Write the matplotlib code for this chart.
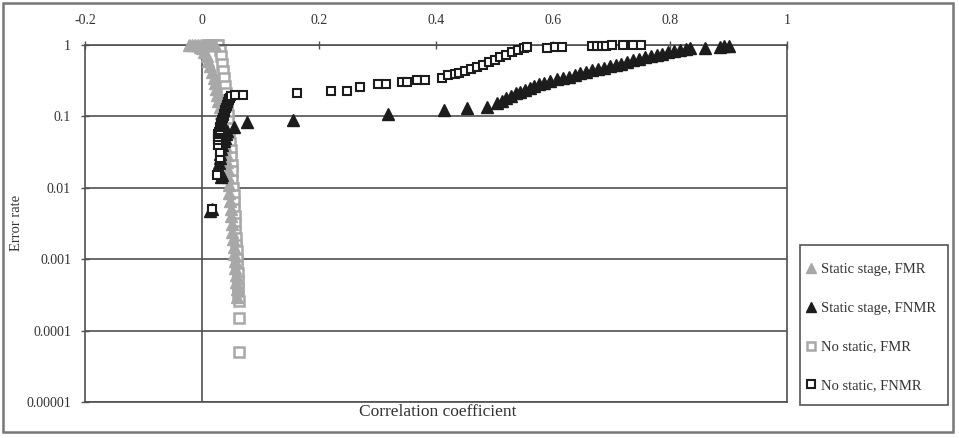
import matplotlib
matplotlib.use("Agg")
import matplotlib.pyplot as plt
from matplotlib.patches import Rectangle
from matplotlib.ticker import FixedLocator, FixedFormatter, NullLocator

plt.rcParams['font.family'] = ['Liberation Serif', 'DejaVu Serif']

# Static stage, FMR (grey triangles)
static_fmr_x = [-0.022, -0.017, -0.012, -0.007, -0.002, 0.003, 0.008, 0.013, 0.018, 0.023,
                -0.004, 0.0, 0.004, 0.008, 0.011, 0.014, 0.017, 0.020, 0.022, 0.024, 0.026,
                0.028, 0.030, 0.032, 0.034, 0.036, 0.038, 0.040, 0.041, 0.042, 0.043,
                0.044, 0.045, 0.046, 0.047, 0.048, 0.049, 0.050, 0.051, 0.052, 0.053,
                0.054, 0.055, 0.056, 0.057, 0.058, 0.058, 0.059, 0.060]
static_fmr_y = [1, 1, 1, 1, 1, 1, 1, 1, 1, 1,
                0.95, 0.9, 0.8, 0.7, 0.6, 0.5, 0.42, 0.35, 0.29, 0.24, 0.2,
                0.165, 0.135, 0.11, 0.09, 0.072, 0.058, 0.046, 0.037, 0.029, 0.023,
                0.018, 0.014, 0.011, 0.0085, 0.0066, 0.0051, 0.004, 0.0031, 0.0024, 0.0019,
                0.0015, 0.0012, 0.00095, 0.00075, 0.0006, 0.00048, 0.00038, 0.0003]

# Static stage, FNMR (black triangles)
static_fnmr_x = [0.013, 0.017, 0.032, 0.034, 0.028, 0.029, 0.030, 0.031, 0.033, 0.035,
                 0.037, 0.039, 0.041, 0.043,
                 0.055, 0.077, 0.156, 0.318, 0.414, 0.453, 0.487, 0.505, 0.512, 0.520,
                 0.528, 0.536, 0.544, 0.552, 0.560, 0.568, 0.576, 0.585, 0.595, 0.607,
                 0.617, 0.627, 0.637, 0.647, 0.657, 0.667, 0.677, 0.687, 0.697, 0.707,
                 0.717, 0.727, 0.737, 0.747, 0.757, 0.767, 0.777, 0.787, 0.797, 0.807,
                 0.817, 0.827, 0.835, 0.860, 0.885, 0.893, 0.900]
static_fnmr_y = [0.0047, 0.005, 0.014, 0.015, 0.019, 0.022, 0.026, 0.030, 0.035, 0.040,
                 0.045, 0.050, 0.056, 0.063,
                 0.071, 0.083, 0.089, 0.107, 0.123, 0.13, 0.137, 0.152, 0.165, 0.18,
                 0.195, 0.21, 0.22, 0.235, 0.25, 0.265, 0.28, 0.295, 0.31, 0.33,
                 0.345, 0.36, 0.38, 0.40, 0.42, 0.44, 0.46, 0.48, 0.50, 0.52,
                 0.55, 0.58, 0.61, 0.64, 0.67, 0.70, 0.73, 0.76, 0.79, 0.82,
                 0.85, 0.88, 0.90, 0.92, 0.95, 0.96, 0.96]

# No static, FMR (grey squares)
nostatic_fmr_x = [0.010, 0.015, 0.020, 0.025, 0.028, 0.030, 0.032, 0.034, 0.036, 0.038,
                  0.040, 0.041, 0.042, 0.043, 0.044, 0.045, 0.046, 0.047, 0.048, 0.049,
                  0.050, 0.051, 0.052, 0.052, 0.053, 0.054, 0.054, 0.055, 0.056, 0.056,
                  0.057, 0.058, 0.058, 0.059, 0.060, 0.060, 0.061, 0.061, 0.062, 0.062,
                  0.063, 0.063, 0.064]
nostatic_fmr_y = [1, 1, 1, 1, 1, 0.85, 0.7, 0.55, 0.43, 0.34,
                  0.27, 0.21, 0.17, 0.135, 0.105, 0.085, 0.068, 0.054, 0.043, 0.034,
                  0.027, 0.021, 0.017, 0.013, 0.01, 0.008, 0.0063, 0.005, 0.004, 0.0032,
                  0.0025, 0.002, 0.0016, 0.0013, 0.001, 0.0008, 0.00064, 0.0005, 0.0004, 0.00032,
                  0.00026, 0.00015, 0.00005]

# No static, FNMR (black squares)
nostatic_fnmr_x = [0.017, 0.026, 0.030, 0.030, 0.027, 0.027, 0.027, 0.028, 0.029, 0.030,
                   0.031, 0.032, 0.033, 0.034, 0.035, 0.036, 0.037, 0.038, 0.039, 0.040,
                   0.041, 0.042, 0.043, 0.044, 0.045, 0.046, 0.047, 0.048, 0.050, 0.056,
                   0.070, 0.162, 0.220, 0.248, 0.270, 0.300, 0.315, 0.342, 0.350, 0.368,
                   0.381, 0.410, 0.420, 0.432, 0.440, 0.450, 0.460, 0.470, 0.480, 0.490,
                   0.500, 0.510, 0.520, 0.530, 0.540, 0.550, 0.555, 0.590, 0.604, 0.615,
                   0.667, 0.675, 0.683, 0.690, 0.700, 0.720, 0.737, 0.750]
nostatic_fnmr_y = [0.005, 0.015, 0.026, 0.032, 0.040, 0.047, 0.052, 0.056, 0.060, 0.065,
                   0.070, 0.075, 0.080, 0.085, 0.090, 0.095, 0.10, 0.108, 0.115, 0.122,
                   0.13, 0.138, 0.145, 0.152, 0.16, 0.168, 0.175, 0.183, 0.19, 0.20,
                   0.20, 0.21, 0.227, 0.227, 0.26, 0.28, 0.28, 0.30, 0.30, 0.32,
                   0.32, 0.345, 0.375, 0.39, 0.41, 0.43, 0.46, 0.49, 0.53, 0.57,
                   0.62, 0.67, 0.73, 0.79, 0.85, 0.90, 0.93, 0.92, 0.94, 0.94,
                   0.96, 0.96, 0.96, 0.96, 1.0, 1.0, 1.0, 1.0]

x_ticks = [-0.2, 0, 0.2, 0.4, 0.6, 0.8, 1]
x_tick_labels = ['-0.2', '0', '0.2', '0.4', '0.6', '0.8', '1']
y_ticks = [1e-5, 1e-4, 1e-3, 1e-2, 1e-1, 1]
y_tick_labels = ['0.00001', '0.0001', '0.001', '0.01', '0.1', '1']

grey = '#a8a8a8'
dark = '#1c1c1c'
line_col = '#505050'
text_col = '#333333'

fig = plt.figure(figsize=(9.59, 4.38), dpi=100)
ax = fig.add_axes([85 / 959, 1 - 402 / 438, 702 / 959, 357 / 438])

ax.plot(static_fmr_x, static_fmr_y, '^', color=grey, ms=9, mec=grey,
        clip_on=False, label='Static stage, FMR', zorder=3)
ax.plot(static_fnmr_x, static_fnmr_y, '^', color=dark, ms=8, mec=dark,
        clip_on=False, label='Static stage, FNMR', zorder=4)
ax.plot(nostatic_fmr_x, nostatic_fmr_y, 's', mfc='white', mec=grey, ms=6.5, mew=1.8,
        clip_on=False, label='No static, FMR', zorder=2.5)
ax.plot(nostatic_fnmr_x, nostatic_fnmr_y, 's', mfc='white', mec=dark, ms=6.3, mew=1.5,
        clip_on=False, label='No static, FNMR', zorder=5)

ax.set_yscale('log')
ax.set_xlim(-0.2, 1)
ax.set_ylim(1e-5, 1)

ax.xaxis.set_major_locator(FixedLocator(x_ticks))
ax.xaxis.set_major_formatter(FixedFormatter(x_tick_labels))
ax.yaxis.set_major_locator(FixedLocator(y_ticks))
ax.yaxis.set_major_formatter(FixedFormatter(y_tick_labels))
ax.yaxis.set_minor_locator(NullLocator())

ax.xaxis.tick_top()
ax.tick_params(axis='x', direction='inout', length=6, width=1, color=line_col,
               pad=10, labelsize=10, labelcolor=text_col)
ax.tick_params(axis='y', direction='inout', length=6, width=1, color=line_col,
               pad=7, labelsize=10, labelcolor=text_col)

for s in ax.spines.values():
    s.set_color(line_col)
    s.set_linewidth(1.2)

ax.grid(True, axis='y', color=line_col, lw=1.2)
ax.axvline(0, color=line_col, lw=1.2, zorder=1)
ax.set_axisbelow(True)

fig.text(438 / 959, 1 - 412 / 438, 'Correlation coefficient', ha='center', va='center',
         fontsize=12.5, color=text_col)
fig.text(16 / 959, 1 - 223 / 438, 'Error rate', ha='center', va='center',
         rotation=90, fontsize=10.5, color=text_col)

# legend entries without frame, box drawn separately
leg = fig.legend(loc='upper left', bbox_to_anchor=(806 / 959, 1 - 263 / 438),
                 frameon=False, fontsize=10.5, labelspacing=1.75,
                 handlelength=0.7, handletextpad=0.35, borderpad=0,
                 borderaxespad=0, labelcolor=text_col, markerscale=0.85)
fig.patches.append(Rectangle((800 / 959, 1 - 405 / 438), 148 / 959, 160 / 438,
                             transform=fig.transFigure, fill=False,
                             edgecolor='#555555', lw=1.2))

fig.patches.append(Rectangle((3 / 959, 1 - 432 / 438), 950 / 959, 429 / 438,
                             transform=fig.transFigure, fill=False,
                             edgecolor='#777777', lw=1.8))

fig.savefig('out.png', dpi=100)
